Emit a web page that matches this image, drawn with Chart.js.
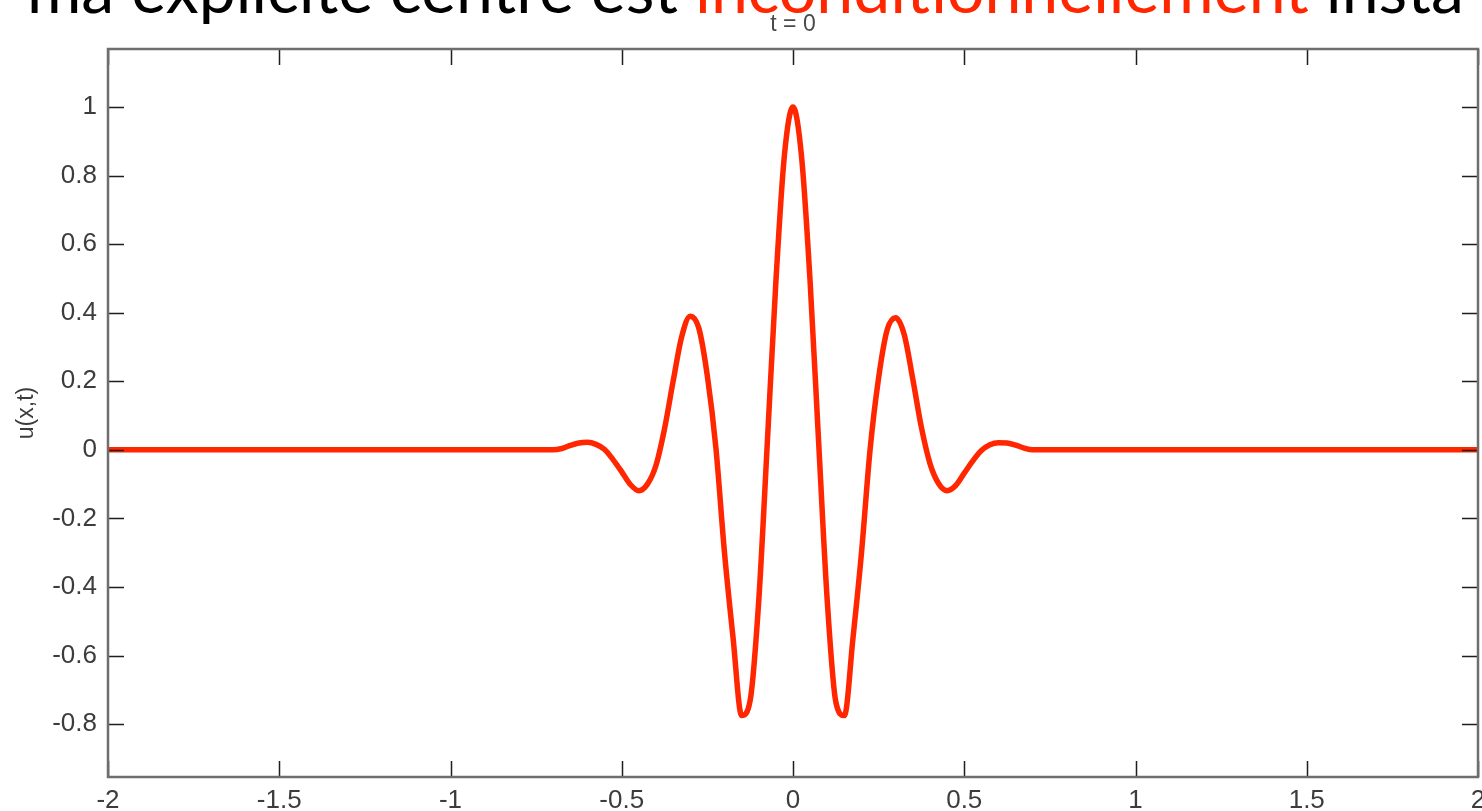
<!DOCTYPE html>
<html lang="fr">
<head>
<meta charset="utf-8">
<title>t = 0</title>
<script src="https://cdn.jsdelivr.net/npm/chart.js@4.4.1/dist/chart.umd.min.js"></script>
<style>
  html, body { margin: 0; padding: 0; background: #fff; overflow: hidden; }
  #wrap { position: relative; width: 1482px; height: 811px; }
</style>
</head>
<body>
<div id="wrap"><canvas id="plot" width="1482" height="811"></canvas></div>
<script>
const RED = `#ff2600`
const TICK = 16 // inward tick length, px

// initial condition u(x, 0) on the grid; zero outside [-0.7, 0.7]
const xs = [-2,
  -0.7, -0.675, -0.65, -0.625, -0.6, -0.575, -0.55, -0.525, -0.5, -0.475,
  -0.45, -0.425, -0.4, -0.375, -0.35, -0.325, -0.3, -0.275, -0.25, -0.225,
  -0.2, -0.175, -0.15, -0.125, -0.1, -0.075, -0.05, -0.025, 0,
  0.025, 0.05, 0.075, 0.1, 0.125, 0.15, 0.175, 0.2, 0.225, 0.25,
  0.275, 0.3, 0.325, 0.35, 0.375, 0.4, 0.425, 0.45, 0.475, 0.5,
  0.525, 0.55, 0.575, 0.6, 0.625, 0.65, 0.675, 0.7,
  2]
const u0 = [0,
  0, 0.004, 0.013, 0.020, 0.022, 0.016, 0.001, -0.029, -0.064, -0.101,
  -0.119, -0.100, -0.045, 0.062, 0.200, 0.330, 0.390, 0.355, 0.215, 0.005,
  -0.300, -0.548, -0.775, -0.730, -0.440, 0.020, 0.490, 0.860, 1.000,
  0.855, 0.490, 0.020, -0.440, -0.735, -0.775, -0.550, -0.300, 0.000, 0.210,
  0.350, 0.385, 0.335, 0.205, 0.065, -0.040, -0.098, -0.119, -0.104, -0.068,
  -0.032, -0.002, 0.015, 0.021, 0.020, 0.014, 0.005, 0,
  0]

const xTicks = [-2, -1.5, -1, -0.5, 0, 0.5, 1, 1.5, 2]
const yTicks = [-0.8, -0.6, -0.4, -0.2, 0, 0.2, 0.4, 0.6, 0.8, 1]
const xRange = [-2, 2]
const yRange = [-0.954, 1.169]

const plotTitle = `t = 0`
const yLabel = `u(x,t)`
// slide heading, clipped by the page edges
const headingParts = [
  [`ma explicite centré est `, `#000`],
  [`inconditionnellement`, RED],
  [` insta`, `#000`]
]

//  Box around the axes with ticks pointing inwards on all four sides
const axesBox = {
  id: `axesBox`,
  afterDatasetsDraw(chart) {
    const { ctx, chartArea: { left, right, top, bottom }, scales: { x, y } } = chart
    ctx.save()
    ctx.strokeStyle = `#1e1e1e`
    ctx.lineWidth = 1.5
    ctx.beginPath()
    xTicks.forEach(v => {
      const px = Math.round(x.getPixelForValue(v)) + 0.5
      ctx.moveTo(px, bottom); ctx.lineTo(px, bottom - TICK)
      ctx.moveTo(px, top); ctx.lineTo(px, top + TICK)
    })
    yTicks.forEach(v => {
      const py = Math.round(y.getPixelForValue(v)) + 0.5
      ctx.moveTo(left, py); ctx.lineTo(left + TICK, py)
      ctx.moveTo(right, py); ctx.lineTo(right - TICK, py)
    })
    ctx.stroke()
    ctx.strokeStyle = `#6e6e6e`
    ctx.lineWidth = 2.5
    ctx.strokeRect(left, top, right - left, bottom - top)
    ctx.restore()
  }
}

//  Plot title and the slide heading above it
const headings = {
  id: `headings`,
  afterDraw(chart) {
    const { ctx, chartArea: { left, right } } = chart
    ctx.save()
    ctx.fillStyle = `#4a4a4a`
    ctx.font = `23px "Liberation Sans", Arial, sans-serif`
    ctx.textAlign = `center`
    ctx.textBaseline = `alphabetic`
    ctx.fillText(plotTitle, (left + right) / 2, 31)

    //  size the heading so the red word spans its measured width
    ctx.font = `100px Lato, sans-serif`
    const size = 100 * 614 / ctx.measureText(headingParts[1][0]).width
    ctx.font = `${size}px Lato, sans-serif`
    ctx.textAlign = `left`
    let cursor = 695 - ctx.measureText(headingParts[0][0]).width
    headingParts.forEach(([text, color]) => {
      ctx.fillStyle = color
      ctx.fillText(text, cursor, 13)
      cursor += ctx.measureText(text).width
    })
    ctx.restore()
  }
}

const tickFont = { family: `"Liberation Sans", Arial, sans-serif`, size: 26 }

new Chart(document.getElementById(`plot`), {
  type: `line`,
  data: {
    datasets: [{
      data: xs.map((x, i) => ({ x, y: u0[i] })),
      borderColor: RED,
      borderWidth: 5.5,
      pointRadius: 0,
      cubicInterpolationMode: `monotone`,
      fill: false
    }]
  },
  options: {
    responsive: false,
    animation: false,
    devicePixelRatio: 1,
    layout: { padding: { top: 49, right: 4, left: 0, bottom: 0 } },
    plugins: { legend: { display: false }, tooltip: { enabled: false } },
    scales: {
      x: {
        type: `linear`,
        min: xRange[0],
        max: xRange[1],
        afterBuildTicks: s => { s.ticks = xTicks.map(value => ({ value })) },
        afterFit: s => { s.height = 34; s.paddingLeft = 0; s.paddingRight = 0 },
        grid: { display: false, drawTicks: false },
        border: { display: false },
        ticks: { font: tickFont, color: `#3c3c3c`, padding: 8, maxRotation: 0, autoSkip: false,
          callback: v => `${v}` }
      },
      y: {
        type: `linear`,
        min: yRange[0],
        max: yRange[1],
        afterBuildTicks: s => { s.ticks = yTicks.map(value => ({ value })) },
        afterFit: s => { s.width = 108; s.paddingTop = 0; s.paddingBottom = 0 },
        grid: { display: false, drawTicks: false },
        border: { display: false },
        ticks: { font: tickFont, color: `#3c3c3c`, padding: 11, autoSkip: false,
          callback: v => `${v}` },
        title: {
          display: true,
          text: yLabel,
          color: `#3c3c3c`,
          font: { family: `"Liberation Sans", Arial, sans-serif`, size: 23 },
          padding: { top: 13, bottom: 0 }
        }
      }
    }
  },
  plugins: [axesBox, headings]
})
</script>
</body>
</html>
